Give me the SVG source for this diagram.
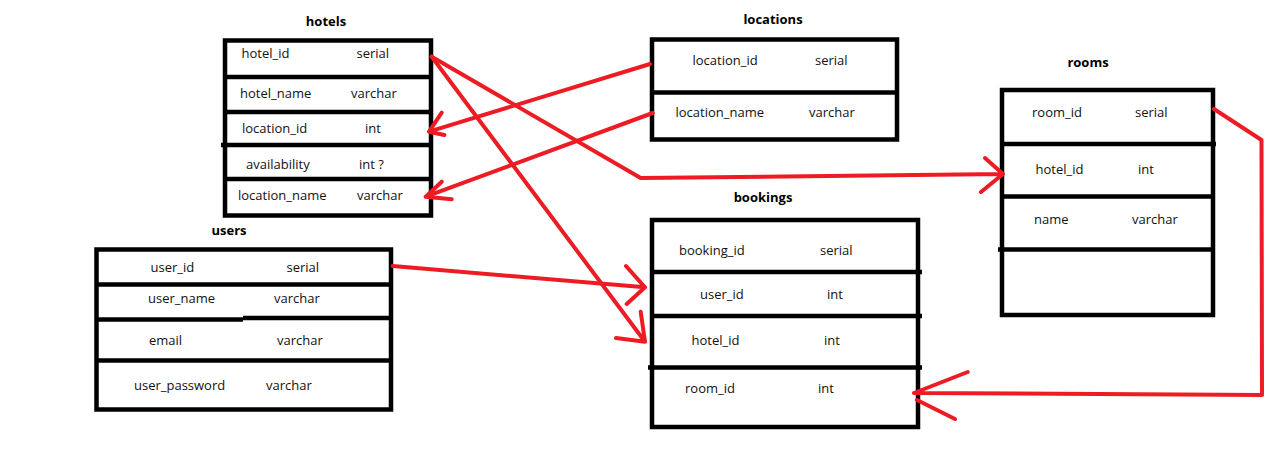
<svg xmlns="http://www.w3.org/2000/svg" width="1279" height="473" viewBox="0 0 1279 473">
<style>
.box{fill:none;stroke:#000;stroke-width:4.5}
.div{stroke:#000;stroke-width:4.5}
.t{font-family:"Open Sans","Noto Sans",sans-serif;font-size:13px;fill:#111}
.h{font-family:"Open Sans","Noto Sans",sans-serif;font-size:13px;font-weight:bold;fill:#000;text-anchor:middle}
.c{fill:none;stroke:#ed1c24;stroke-width:4;stroke-linecap:round;stroke-linejoin:round}
</style>
<rect width="1279" height="473" fill="#fff"/>
<g id="hotels">
<text class="h" x="326" y="26">hotels</text>
<rect class="box" x="225" y="40.5" width="206" height="175"/>
<line class="div" x1="225" y1="77" x2="431" y2="77"/>
<line class="div" x1="225" y1="112" x2="431" y2="112"/>
<line class="div" x1="221" y1="145" x2="431" y2="145"/>
<line class="div" x1="225" y1="179" x2="431" y2="179"/>
<text class="t" x="241.5" y="58">hotel_id</text><text class="t" x="356.5" y="58">serial</text>
<text class="t" x="240" y="98">hotel_name</text><text class="t" x="351" y="98">varchar</text>
<text class="t" x="242" y="133">location_id</text><text class="t" x="365" y="133">int</text>
<text class="t" x="246" y="169">availability</text><text class="t" x="359" y="169">int ?</text>
<text class="t" x="238" y="200">location_name</text><text class="t" x="357" y="200">varchar</text>
</g>
<g id="locations">
<text class="h" x="773" y="24">locations</text>
<rect class="box" x="652" y="39.5" width="245" height="100"/>
<line class="div" x1="652" y1="92.5" x2="897" y2="92.5"/>
<text class="t" x="692.5" y="65">location_id</text><text class="t" x="815" y="65">serial</text>
<text class="t" x="675.5" y="117">location_name</text><text class="t" x="809" y="117">varchar</text>
</g>
<g id="rooms">
<text class="h" x="1088" y="67">rooms</text>
<rect class="box" x="1002" y="90" width="211" height="225"/>
<line class="div" x1="1002" y1="144" x2="1216" y2="144"/>
<line class="div" x1="1002" y1="196.5" x2="1213" y2="196.5"/>
<line class="div" x1="998" y1="249.5" x2="1213" y2="249.5"/>
<text class="t" x="1032" y="117">room_id</text><text class="t" x="1135" y="117">serial</text>
<text class="t" x="1035.5" y="174">hotel_id</text><text class="t" x="1138" y="174">int</text>
<text class="t" x="1034" y="224">name</text><text class="t" x="1132" y="224">varchar</text>
</g>
<g id="bookings">
<text class="h" x="763" y="202">bookings</text>
<rect class="box" x="652" y="220" width="266" height="207"/>
<line class="div" x1="652" y1="272" x2="922" y2="272"/>
<line class="div" x1="652" y1="316" x2="922" y2="316"/>
<line class="div" x1="648" y1="367.5" x2="922" y2="367.5"/>
<text class="t" x="679" y="255">booking_id</text><text class="t" x="820" y="255">serial</text>
<text class="t" x="700" y="299">user_id</text><text class="t" x="827" y="299">int</text>
<text class="t" x="691.5" y="345">hotel_id</text><text class="t" x="824" y="345">int</text>
<text class="t" x="685" y="393">room_id</text><text class="t" x="818" y="393">int</text>
</g>
<g id="users">
<text class="h" x="229" y="235">users</text>
<rect class="box" x="96.5" y="249.5" width="294.5" height="160"/>
<line class="div" x1="96.5" y1="284.5" x2="391" y2="284.5"/>
<line class="div" x1="96.5" y1="319.5" x2="243" y2="319.5"/>
<line class="div" x1="243" y1="318" x2="391" y2="318"/>
<line class="div" x1="96.5" y1="360.5" x2="391" y2="360.5"/>
<text class="t" x="150.5" y="272">user_id</text><text class="t" x="286.5" y="272">serial</text>
<text class="t" x="148" y="303">user_name</text><text class="t" x="274" y="303">varchar</text>
<text class="t" x="149" y="345">email</text><text class="t" x="277" y="345">varchar</text>
<text class="t" x="134" y="390">user_password</text><text class="t" x="266" y="390">varchar</text>
</g>
<g id="connectors">
<path class="c" d="M431.7,56.7 L645,341.7 M640.7,311.7 L645,341.7 L616,338"/>
<path class="c" d="M431.7,56.7 L640.7,178 L1003,174 M985,158 L1003,174 L981,192"/>
<path class="c" d="M650,64 L429,131.7 M441.7,112.7 L429,131.7 L444.3,135"/>
<path class="c" d="M652.7,113 L425.7,196.7 M441.7,181.7 L425.7,196.7 L451.7,199.3"/>
<path class="c" d="M392.7,266 L645,287.3 M626,266 L645,287.3 L626.7,304"/>
<path class="c" d="M1214,109 L1261.5,140 L1262,395 L914,393 M967.7,372 L914,393 M917,400 L955,419"/>
</g>
</svg>
